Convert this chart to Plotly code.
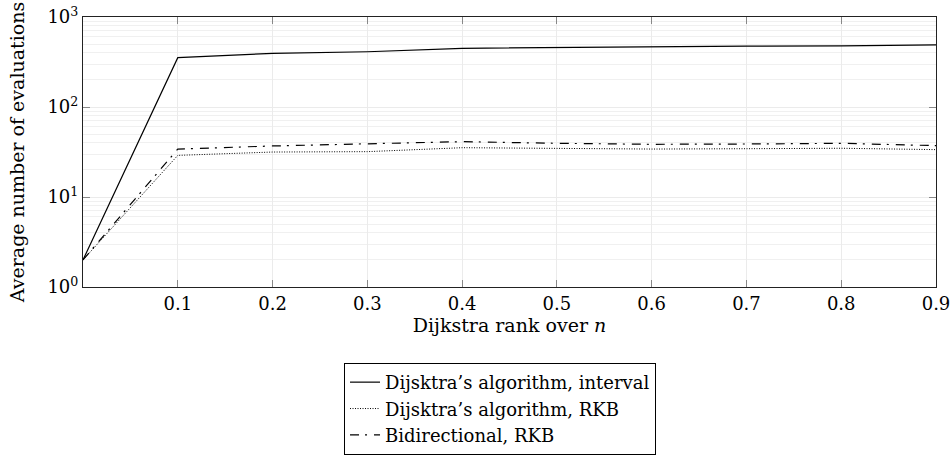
import plotly.graph_objects as go

rank = [0.0, 0.1, 0.2, 0.3, 0.4, 0.5, 0.6, 0.7, 0.8, 0.9]
dijkstra_interval = [2, 353, 395, 411, 449, 460, 468, 474, 477, 489]
dijkstra_rkb = [2, 29.0, 31.6, 31.9, 35.3, 34.4, 34.1, 34.4, 34.8, 33.6]
bidirectional_rkb = [2, 34.1, 36.9, 38.8, 41.2, 39.5, 38.5, 38.8, 39.5, 37.2]

series_names = ["Dijsktra\u2019s algorithm, interval",
                "Dijsktra\u2019s algorithm, RKB",
                "Bidirectional, RKB"]
x_ticks = [0.1, 0.2, 0.3, 0.4, 0.5, 0.6, 0.7, 0.8, 0.9]
x_tick_labels = ["0.1", "0.2", "0.3", "0.4", "0.5", "0.6", "0.7", "0.8", "0.9"]
y_ticks = [1, 10, 100, 1000]
y_tick_labels = ["10<sup>0</sup>", "10<sup>1</sup>", "10<sup>2</sup>", "10<sup>3</sup>"]

FONT = "DejaVu Serif, Liberation Serif, Times New Roman, serif"

fig = go.Figure()
fig.add_trace(go.Scatter(x=rank, y=dijkstra_interval, mode="lines", name=series_names[0],
                         line=dict(color="black", width=1.2)))
fig.add_trace(go.Scatter(x=rank, y=dijkstra_rkb, mode="lines", name=series_names[1],
                         line=dict(color="black", width=1, dash="1px,1.5px")))
fig.add_trace(go.Scatter(x=rank, y=bidirectional_rkb, mode="lines", name=series_names[2],
                         line=dict(color="black", width=1.2, dash="9px,6px,2px,7px")))

fig.update_layout(
    width=952, height=457,
    margin=dict(l=83, r=16, t=17, b=170, autoexpand=False),
    paper_bgcolor="white", plot_bgcolor="white",
    font=dict(family=FONT, size=19, color="black"),
    showlegend=True,
    legend=dict(x=0.306, y=-0.622, xanchor="left", yanchor="bottom",
                bordercolor="black", borderwidth=1, bgcolor="white",
                font=dict(family=FONT, size=18), tracegroupgap=0,
                itemwidth=30),
)

fig.update_xaxes(
    range=[0, 0.9], tickvals=x_ticks, ticktext=x_tick_labels,
    showline=True, linecolor="#222222", linewidth=1.2, mirror="ticks",
    ticks="inside", ticklen=7, tickcolor="#888888", tickwidth=1,
    showgrid=True, gridcolor="#ebebeb", gridwidth=1, zeroline=False,
    tickfont=dict(family=FONT, size=18), ticklabelstandoff=0, automargin=False,
    title=dict(text="Dijkstra rank over <i>n</i>", font=dict(family=FONT, size=19), standoff=0),
)
fig.update_yaxes(
    type="log", range=[0, 3], tickvals=y_ticks, ticktext=y_tick_labels,
    showline=True, linecolor="#222222", linewidth=1.2, mirror="ticks",
    ticks="inside", ticklen=7, tickcolor="#888888", tickwidth=1,
    showgrid=True, gridcolor="#ebebeb", gridwidth=1, zeroline=False,
    minor=dict(showgrid=True, gridcolor="#f0f0f0", gridwidth=1,
               tickvals=[m * 10 ** d for d in range(3) for m in range(2, 10)], ticks=""),
    tickfont=dict(family=FONT, size=18), automargin=False,
    title=dict(text="Average number of evaluations", font=dict(family=FONT, size=19), standoff=17),
)

fig.write_html(
    "out.html",
    config={"displayModeBar": False},
    post_script="document.body.style.margin='0';document.body.style.overflow='hidden';",
)
